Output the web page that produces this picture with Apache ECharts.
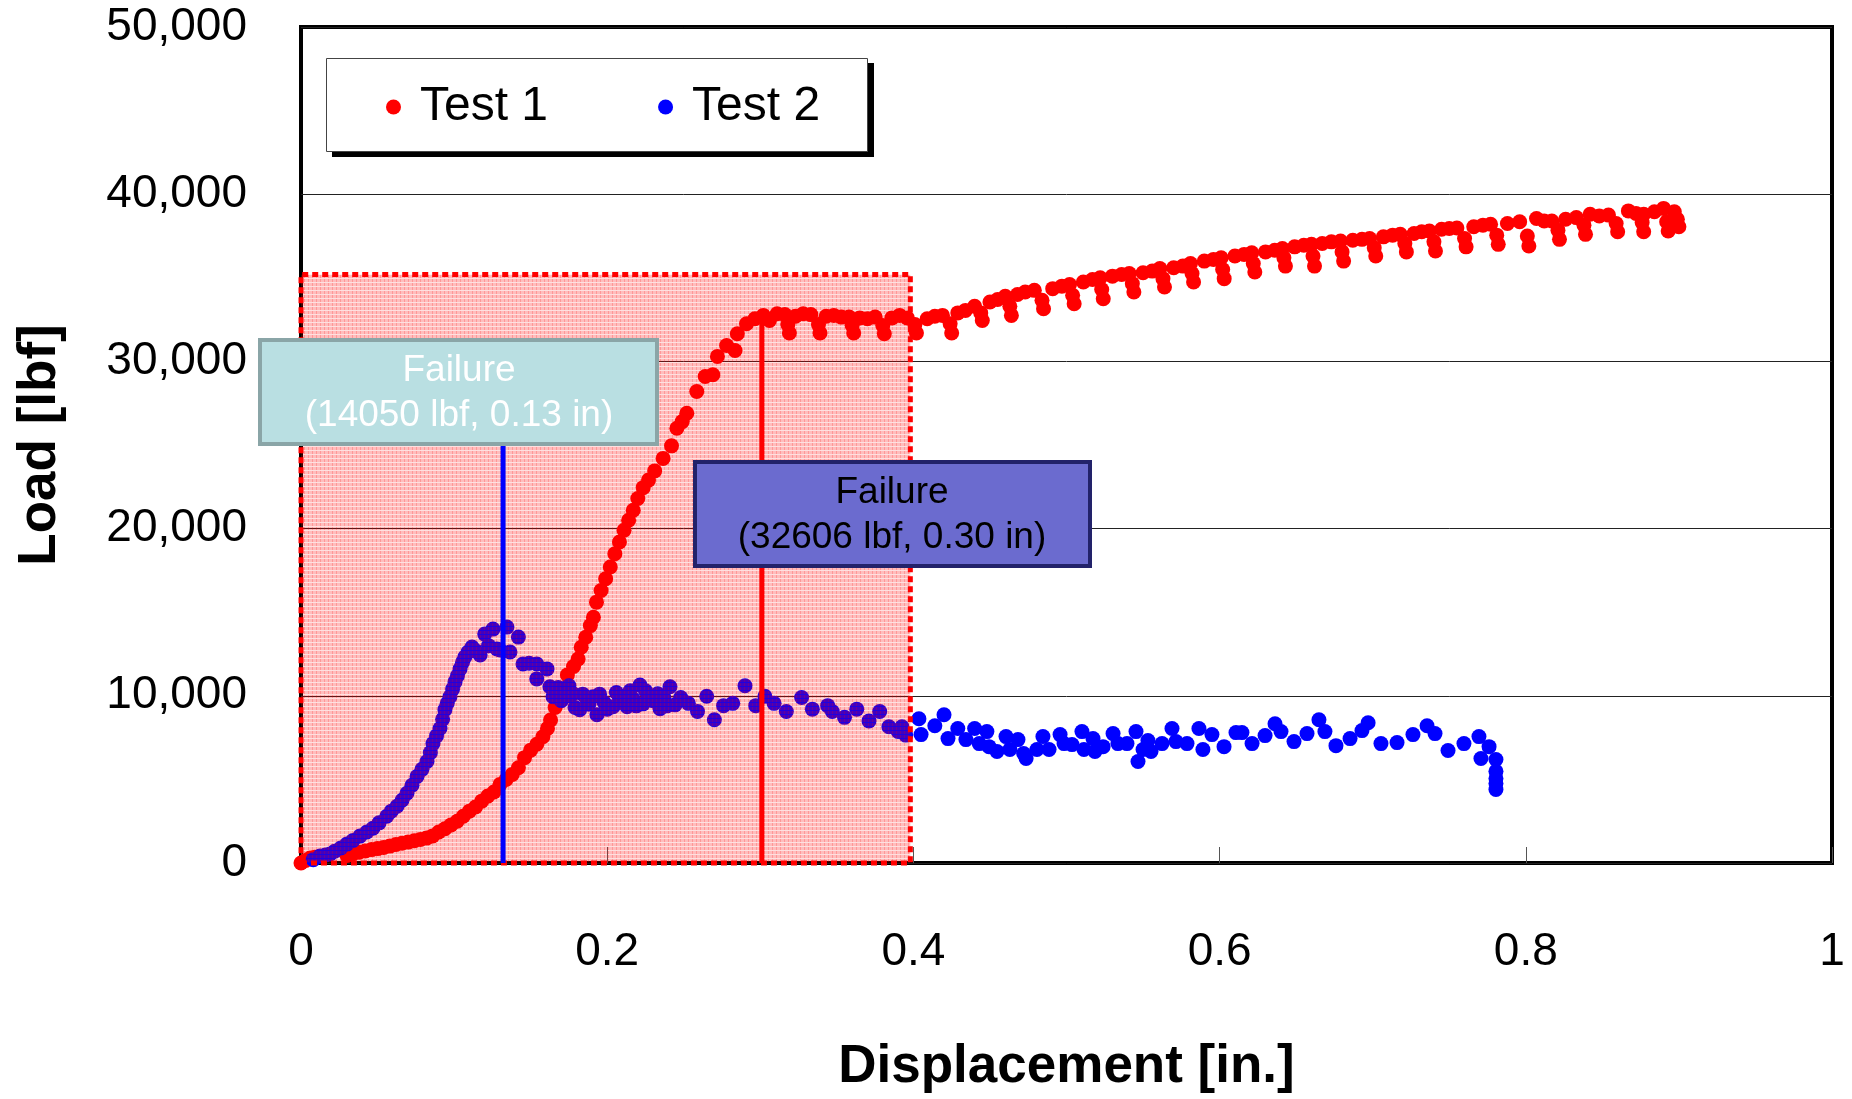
<!DOCTYPE html>
<html>
<head>
<meta charset="utf-8">
<title>Load vs Displacement</title>
<script src="https://cdn.jsdelivr.net/npm/echarts@6/dist/echarts.min.js"></script>
<style>
  html, body { margin: 0; padding: 0; background: #fff; }
  #chart { width: 1852px; height: 1099px; }
</style>
</head>
<body>
<div id="chart"></div>
<script>
// 刻度
const dispTicks = [0, 0.2, 0.4, 0.6, 0.8, 1];
const loadTicks = [0, 10000, 20000, 30000, 40000, 50000];

// Test 1: [displacement (in), load (lbf)]
const test1 = [
  [0, 0], [0.003, 150], [0.006, 300], [0.009, 350],
  [0.030, 450], [0.034, 560], [0.038, 650], [0.042, 720], [0.046, 800], [0.050, 860],
  [0.054, 930], [0.058, 1010], [0.062, 1110], [0.066, 1180], [0.070, 1250], [0.074, 1330],
  [0.078, 1410], [0.082, 1490], [0.086, 1620], [0.090, 1850], [0.094, 2050], [0.098, 2280],
  [0.102, 2500], [0.106, 2800], [0.110, 3100], [0.114, 3350], [0.118, 3700], [0.122, 4000],
  [0.126, 4250], [0.130, 4700], [0.134, 5000], [0.138, 5300], [0.142, 5700], [0.146, 6300],
  [0.150, 6750], [0.154, 7100], [0.158, 7550], [0.161, 8050], [0.163, 8550], [0.166, 9300],
  [0.170, 10300], [0.174, 11250], [0.178, 11750], [0.181, 12200], [0.183, 12900], [0.186, 13500],
  [0.189, 14200], [0.191, 14700], [0.193, 15600], [0.196, 16300], [0.199, 17000], [0.202, 17700],
  [0.205, 18500], [0.208, 19200], [0.211, 19900], [0.214, 20500], [0.217, 21100], [0.220, 21800],
  [0.2235, 22450], [0.227, 22900], [0.231, 23450], [0.2365, 24200], [0.242, 24950], [0.2455, 26000],
  [0.249, 26400], [0.252, 26900], [0.2585, 28200], [0.264, 29100], [0.269, 29200], [0.272, 30300],
  [0.278, 30950], [0.2835, 30650], [0.285, 31650], [0.291, 32250], [0.2965, 32550],
  [0.302, 32750], [0.306, 32450], [0.311, 32850], [0.316, 32800], [0.318, 32200], [0.319, 31700],
  [0.323, 32700], [0.328, 32850], [0.333, 32800], [0.338, 32200], [0.339, 31700], [0.343, 32700],
  [0.348, 32750], [0.353, 32650], [0.358, 32650], [0.360, 32150], [0.361, 31700], [0.365, 32600],
  [0.370, 32550], [0.375, 32650], [0.380, 32150], [0.381, 31650], [0.386, 32600], [0.391, 32750],
  [0.396, 32600], [0.401, 32200], [0.402, 31700], [0.409, 32550], [0.414, 32700], [0.419, 32750],
  [0.424, 32250], [0.425, 31700], [0.429, 32900], [0.434, 33050], [0.440, 33300], [0.444, 32900],
  [0.445, 32450], [0.450, 33550], [0.455, 33700], [0.460, 33900], [0.463, 33300], [0.464, 32750],
  [0.468, 34000], [0.473, 34150], [0.479, 34250], [0.484, 33650], [0.485, 33150], [0.491, 34350],
  [0.497, 34500], [0.502, 34600], [0.504, 33950], [0.505, 33450], [0.511, 34750], [0.517, 34900],
  [0.522, 35000], [0.523, 34300], [0.524, 33750], [0.530, 35100], [0.536, 35200], [0.541, 35250],
  [0.543, 34650], [0.544, 34150], [0.550, 35300], [0.556, 35400], [0.561, 35550], [0.563, 34950],
  [0.564, 34450], [0.570, 35600], [0.576, 35700], [0.581, 35850], [0.582, 35250], [0.583, 34750],
  [0.590, 36000], [0.596, 36100], [0.601, 36200], [0.602, 35500], [0.603, 34950], [0.610, 36300],
  [0.616, 36400], [0.621, 36500], [0.622, 35850], [0.623, 35350], [0.630, 36550], [0.636, 36650],
  [0.641, 36750], [0.642, 36200], [0.643, 35700], [0.649, 36850], [0.655, 36950], [0.660, 37000],
  [0.661, 36300], [0.662, 35700], [0.667, 37050], [0.673, 37150], [0.679, 37200], [0.680, 36550],
  [0.681, 36000], [0.687, 37250], [0.693, 37300], [0.698, 37350], [0.701, 36800], [0.702, 36300],
  [0.707, 37450], [0.713, 37550], [0.718, 37600], [0.721, 37050], [0.722, 36550], [0.727, 37650],
  [0.732, 37750], [0.737, 37800], [0.740, 37150], [0.741, 36600], [0.745, 37900], [0.750, 37950],
  [0.755, 37980], [0.760, 37350], [0.761, 36850], [0.766, 38050], [0.772, 38150], [0.777, 38200],
  [0.781, 37550], [0.782, 37000], [0.788, 38250], [0.796, 38350], [0.801, 37500], [0.802, 36900],
  [0.807, 38550], [0.812, 38400], [0.817, 38400], [0.821, 37850], [0.822, 37300], [0.826, 38500],
  [0.833, 38600], [0.838, 38150], [0.839, 37600], [0.842, 38800], [0.848, 38700], [0.854, 38750],
  [0.859, 38250], [0.860, 37750], [0.867, 39000], [0.872, 38850], [0.877, 38800], [0.876, 38300],
  [0.877, 37750], [0.884, 38950], [0.890, 39150], [0.892, 38350], [0.893, 37800], [0.897, 38950],
  [0.899, 38500], [0.900, 38050]
];

// Test 2: [displacement (in), load (lbf)]
const test2 = [
  [0.008, 200], [0.0124, 420], [0.016, 480], [0.019, 540], [0.022, 700], [0.026, 900],
  [0.030, 1130], [0.034, 1350], [0.0385, 1610], [0.043, 1850], [0.047, 2080], [0.051, 2400],
  [0.056, 2800], [0.059, 3100], [0.0627, 3390], [0.066, 3750], [0.0692, 4170], [0.0725, 4650],
  [0.0758, 5180], [0.079, 5600], [0.0823, 6070], [0.0845, 6600], [0.0862, 7140], [0.0885, 7600],
  [0.0908, 8040], [0.0925, 8600], [0.094, 9170], [0.0955, 9550], [0.0973, 9940], [0.099, 10400],
  [0.1006, 10830], [0.1022, 11200], [0.1039, 11610], [0.1055, 12000], [0.107, 12320], [0.109, 12600],
  [0.1117, 12920], [0.114, 12700], [0.117, 12440], [0.120, 13690], [0.1225, 13000], [0.1254, 13990],
  [0.128, 12800], [0.130, 12740], [0.1345, 14110], [0.1365, 12620], [0.142, 13510], [0.145, 11900],
  [0.149, 11950], [0.154, 11900], [0.154, 11010], [0.1607, 11610], [0.1626, 10540], [0.1646, 9940],
  [0.166, 10300], [0.168, 10500], [0.170, 9700], [0.171, 10420], [0.1745, 10000], [0.175, 10600],
  [0.1777, 10120], [0.179, 9300], [0.182, 9170], [0.184, 10100], [0.186, 9900], [0.188, 9500],
  [0.1907, 9940], [0.1933, 8870], [0.195, 10100], [0.198, 9600], [0.200, 9200], [0.2038, 9350],
  [0.206, 10200], [0.208, 9900], [0.210, 9600], [0.213, 9350], [0.215, 10300], [0.217, 9800],
  [0.219, 9400], [0.2214, 10650], [0.2234, 9520], [0.225, 10300], [0.228, 9900], [0.230, 9700],
  [0.233, 10120], [0.2345, 9230], [0.237, 9900], [0.239, 9400], [0.241, 10540], [0.2443, 9460],
  [0.248, 9900], [0.253, 9550], [0.259, 9060], [0.265, 9970], [0.270, 8570], [0.276, 9410],
  [0.282, 9550], [0.290, 10600], [0.297, 9410], [0.303, 9970], [0.309, 9550], [0.317, 9060],
  [0.327, 9900], [0.334, 9200], [0.344, 9410], [0.347, 9060], [0.355, 8710], [0.363, 9200],
  [0.371, 8500], [0.378, 9060], [0.384, 8150], [0.390, 7870], [0.3925, 8150], [0.395, 7650],
  [0.4036, 8630], [0.405, 7680], [0.414, 8210], [0.420, 8870], [0.4226, 7440], [0.429, 8040],
  [0.4343, 7380], [0.440, 8040], [0.443, 7140], [0.448, 7860], [0.4494, 6960], [0.4546, 6670],
  [0.4605, 7560], [0.463, 6790], [0.4683, 7380], [0.472, 6550], [0.4736, 6250], [0.4807, 6790],
  [0.4846, 7560], [0.4886, 6790], [0.4958, 7680], [0.4984, 7140], [0.5036, 7080], [0.5101, 7860],
  [0.5114, 6790], [0.5173, 7440], [0.5186, 6670], [0.5239, 6960], [0.5304, 7740], [0.5336, 7140],
  [0.5395, 7140], [0.5454, 7860], [0.5467, 6070], [0.550, 6790], [0.5532, 7320], [0.5552, 6670],
  [0.5624, 7140], [0.5689, 8040], [0.5715, 7260], [0.5787, 7140], [0.5865, 8040], [0.5891, 6790],
  [0.595, 7680], [0.6029, 6960], [0.6107, 7800], [0.6146, 7800], [0.6212, 7140], [0.6297, 7620],
  [0.6362, 8330], [0.6401, 7860], [0.6486, 7260], [0.6571, 7740], [0.6649, 8570], [0.6688, 7860],
  [0.676, 7020], [0.6852, 7440], [0.693, 7920], [0.697, 8390], [0.7054, 7140], [0.7159, 7200],
  [0.7263, 7680], [0.7355, 8210], [0.7407, 7740], [0.7492, 6730], [0.7596, 7140], [0.7694, 7560],
  [0.7707, 6250], [0.776, 6960], [0.7805, 6190], [0.7805, 5480], [0.7805, 5060], [0.7805, 4760],
  [0.7805, 4400]
];

// 失效点
const failureTest2 = { disp: 0.132, load: 14050 };
const failureTest1 = { disp: 0.301, load: 32606 };
// 阴影区域
const shadeDisp = [0, 0.398];
const shadeLoad = [0, 35200];
// 蓝色引线顶端（被标注框遮住）
const test2LeaderTop = 25200;

const FONT = '"Liberation Sans", Arial, Helvetica, sans-serif';

// 粉色网格填充
function makeHatch () {
  const c = document.createElement('canvas');
  c.width = 4;
  c.height = 4;
  const ctx = c.getContext('2d');
  ctx.fillStyle = 'rgba(255,0,0,0.26)';
  ctx.fillRect(0, 0, 4, 4);
  ctx.fillStyle = 'rgba(255,0,0,0.2)';
  ctx.fillRect(0, 0, 1, 4);
  ctx.clearRect(0, 2, 4, 1);
  ctx.fillStyle = 'rgba(255,0,0,0.12)';
  ctx.fillRect(0, 2, 4, 1);
  return c;
}

const chart = echarts.init(document.getElementById('chart'));

chart.setOption({
  animation: false,
  backgroundColor: '#fff',
  textStyle: { fontFamily: FONT },
  grid: {
    left: 301,
    top: 27,
    width: 1531,
    height: 840,
    show: true,
    borderColor: '#000',
    borderWidth: 4,
    backgroundColor: 'transparent'
  },
  legend: {
    data: ['Test 1', 'Test 2'],
    left: 386,
    top: 82,
    orient: 'horizontal',
    padding: 0,
    itemGap: 110,
    itemWidth: 15,
    itemHeight: 15,
    icon: 'circle',
    selectedMode: false,
    z: 6,
    textStyle: {
      fontFamily: FONT,
      fontSize: 48,
      color: '#000',
      lineHeight: 50,
      padding: [0, 0, 0, 14]
    }
  },
  xAxis: {
    type: 'value',
    min: dispTicks[0],
    max: dispTicks[dispTicks.length - 1],
    interval: dispTicks[1] - dispTicks[0],
    name: 'Displacement [in.]',
    nameLocation: 'middle',
    nameGap: 178,
    nameTextStyle: { fontFamily: FONT, fontSize: 53, fontWeight: 'bold', color: '#000' },
    axisLine: { show: false },
    axisTick: { show: true, inside: true, length: 16, lineStyle: { color: '#555', width: 1 } },
    axisLabel: { fontFamily: FONT, fontSize: 46, color: '#000', margin: 66 },
    splitLine: { show: false }
  },
  yAxis: {
    type: 'value',
    min: loadTicks[0],
    max: loadTicks[loadTicks.length - 1],
    interval: loadTicks[1] - loadTicks[0],
    name: 'Load [lbf]',
    nameLocation: 'middle',
    nameGap: 234,
    nameTextStyle: { fontFamily: FONT, fontSize: 53, fontWeight: 'bold', color: '#000' },
    axisLine: { show: false },
    axisTick: { show: false },
    axisLabel: {
      fontFamily: FONT,
      fontSize: 46,
      color: '#000',
      margin: 54,
      formatter: v => v.toLocaleString('en-US')
    },
    splitLine: { show: true, lineStyle: { color: '#222', width: 1 } }
  },
  series: [
    {
      name: 'Test 1',
      type: 'scatter',
      symbol: 'circle',
      symbolSize: 15,
      itemStyle: { color: '#ff0000', opacity: 1 },
      data: test1,
      z: 2,
      markArea: {
        silent: true,
        z: 5,
        itemStyle: {
          color: { image: makeHatch(), repeat: 'repeat' },
          borderColor: '#ff0000',
          borderWidth: 5,
          borderType: [6, 4]
        },
        data: [[
          { coord: [shadeDisp[0], shadeLoad[0]] },
          { coord: [shadeDisp[1], shadeLoad[1]] }
        ]]
      }
    },
    {
      name: 'Test 2',
      type: 'scatter',
      symbol: 'circle',
      symbolSize: 15,
      itemStyle: { color: '#0000ff', opacity: 1 },
      data: test2,
      z: 2
    },
    {
      name: 'failure2-line',
      type: 'line',
      showSymbol: false,
      silent: true,
      z: 8,
      lineStyle: { color: '#0000ff', width: 5 },
      data: [[failureTest2.disp, 0], [failureTest2.disp, test2LeaderTop]]
    },
    {
      name: 'failure1-line',
      type: 'line',
      showSymbol: false,
      silent: true,
      z: 8,
      lineStyle: { color: '#ff0000', width: 5 },
      data: [[failureTest1.disp, 0], [failureTest1.disp, failureTest1.load]]
    }
  ],
  graphic: [
    // 图例框 + 阴影
    {
      type: 'rect',
      z: 3,
      silent: true,
      shape: { x: 332, y: 63, width: 542, height: 94 },
      style: { fill: '#000' }
    },
    {
      type: 'rect',
      z: 4,
      silent: true,
      shape: { x: 326.5, y: 58.5, width: 541, height: 93 },
      style: { fill: '#fff', stroke: '#444', lineWidth: 1 }
    },
    // Test 2 失效标注
    {
      type: 'group',
      z: 20,
      silent: true,
      children: [
        {
          type: 'rect',
          z: 20,
          shape: { x: 260, y: 340, width: 397, height: 104 },
          style: { fill: '#b9dfe2', stroke: '#8aa5a7', lineWidth: 4 }
        },
        {
          type: 'text',
          z: 21,
          x: 459,
          y: 393,
          style: {
            text: 'Failure\n(' + failureTest2.load + ' lbf, ' + failureTest2.disp.toFixed(2) + ' in)',
            font: '37px ' + FONT,
            fill: '#fff',
            align: 'center',
            verticalAlign: 'middle',
            lineHeight: 45
          }
        }
      ]
    },
    // Test 1 失效标注
    {
      type: 'group',
      z: 20,
      silent: true,
      children: [
        {
          type: 'rect',
          z: 20,
          shape: { x: 695, y: 462, width: 395, height: 104 },
          style: { fill: '#6b6bcf', stroke: '#22226a', lineWidth: 4 }
        },
        {
          type: 'text',
          z: 21,
          x: 892,
          y: 515,
          style: {
            text: 'Failure\n(' + failureTest1.load + ' lbf, ' + failureTest1.disp.toFixed(2) + ' in)',
            font: '37px ' + FONT,
            fill: '#000',
            align: 'center',
            verticalAlign: 'middle',
            lineHeight: 45
          }
        }
      ]
    }
  ]
});
</script>
</body>
</html>
